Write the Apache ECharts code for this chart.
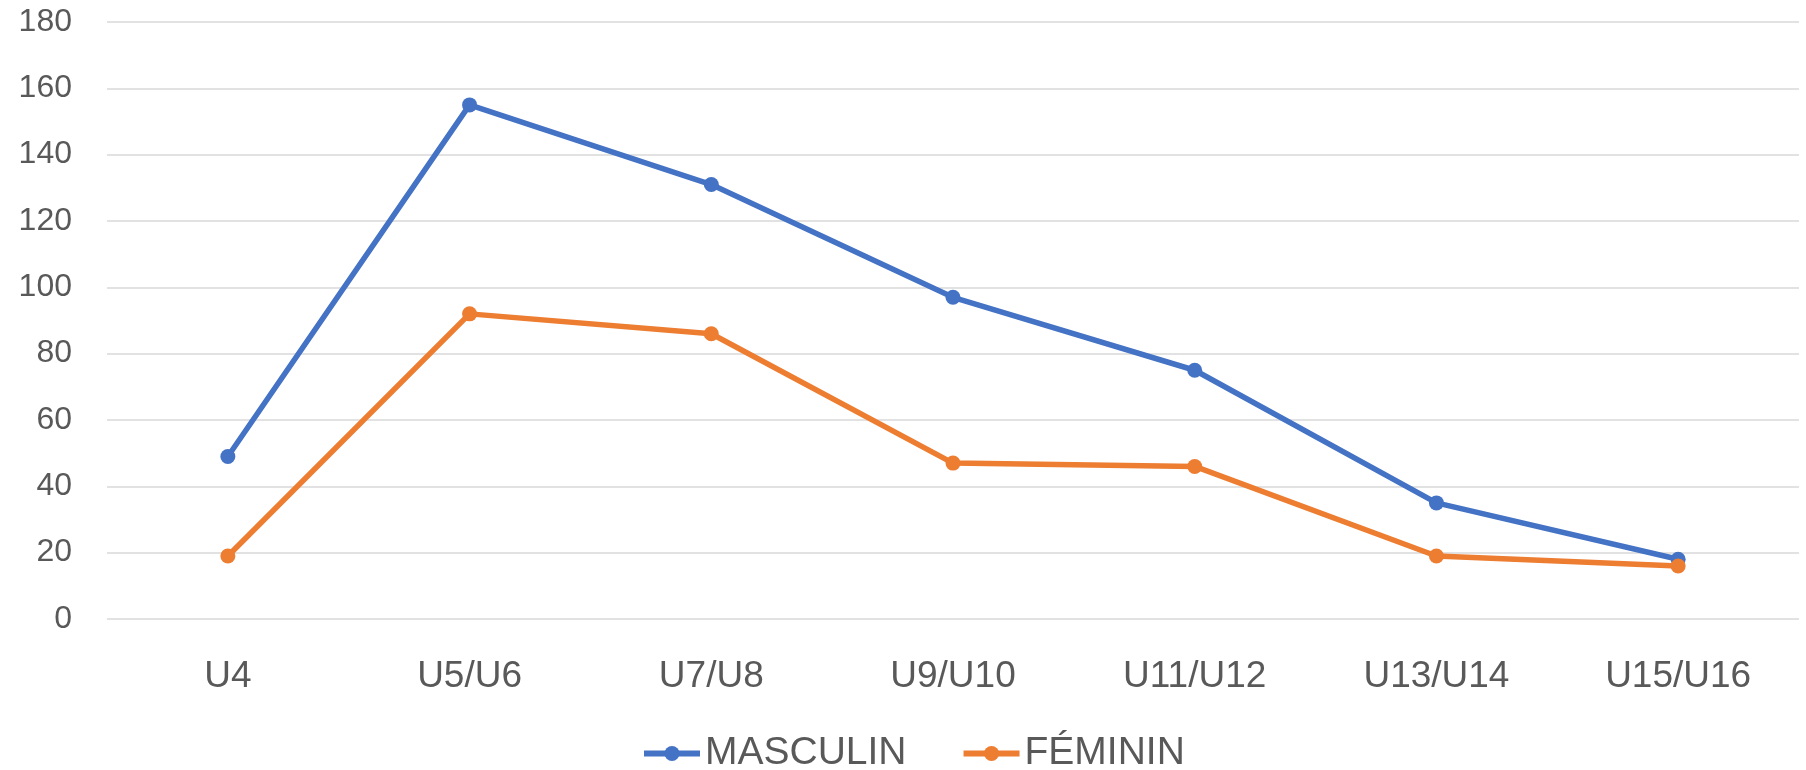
<!DOCTYPE html>
<html>
<head>
<meta charset="utf-8">
<script src="https://cdn.jsdelivr.net/npm/echarts@6/dist/echarts.min.js"></script>
<style>
  html, body { margin: 0; padding: 0; background: #fff; }
  #chart { width: 1806px; height: 770px; }
</style>
</head>
<body>
<div id="chart"></div>
<script>
const categories = ['U4', 'U5/U6', 'U7/U8', 'U9/U10', 'U11/U12', 'U13/U14', 'U15/U16'];
const masculin = [49, 155, 131, 97, 75, 35, 18];
const feminin = [19, 92, 86, 47, 46, 19, 16];

const chart = echarts.init(document.getElementById('chart'));

const font = '"Liberation Sans", Arial, sans-serif';

chart.setOption({
    animation: false,
    color: ['#4472C4', '#ED7D31'],
    grid: { left: 107, right: 7, top: 22, bottom: 151 },
    legend: {
        top: 729,
        left: 636,
        itemWidth: 56,
        itemHeight: 19,
        itemGap: 54,
        lineStyle: { width: 6 },
        textStyle: {
            fontFamily: font,
            fontSize: 39,
            color: '#595959'
        },
        data: ['MASCULIN', 'FÉMININ']
    },
    xAxis: {
        type: 'category',
        data: categories,
        boundaryGap: true,
        axisLine: { show: false },
        axisTick: { show: false },
        axisLabel: {
            fontFamily: font,
            fontSize: 37,
            color: '#595959',
            margin: 39
        }
    },
    yAxis: {
        type: 'value',
        min: 0,
        max: 180,
        interval: 20,
        axisLine: { show: false },
        axisTick: { show: false },
        axisLabel: {
            fontFamily: font,
            fontSize: 32,
            color: '#595959',
            margin: 35
        },
        splitLine: { lineStyle: { color: '#D9D9D9', width: 1.5 } }
    },
    series: [
        {
            name: 'MASCULIN',
            type: 'line',
            data: masculin,
            symbol: 'circle',
            symbolSize: 15,
            lineStyle: { width: 5.5 }
        },
        {
            name: 'FÉMININ',
            type: 'line',
            data: feminin,
            symbol: 'circle',
            symbolSize: 15,
            lineStyle: { width: 5.5 }
        }
    ]
});
</script>
</body>
</html>
